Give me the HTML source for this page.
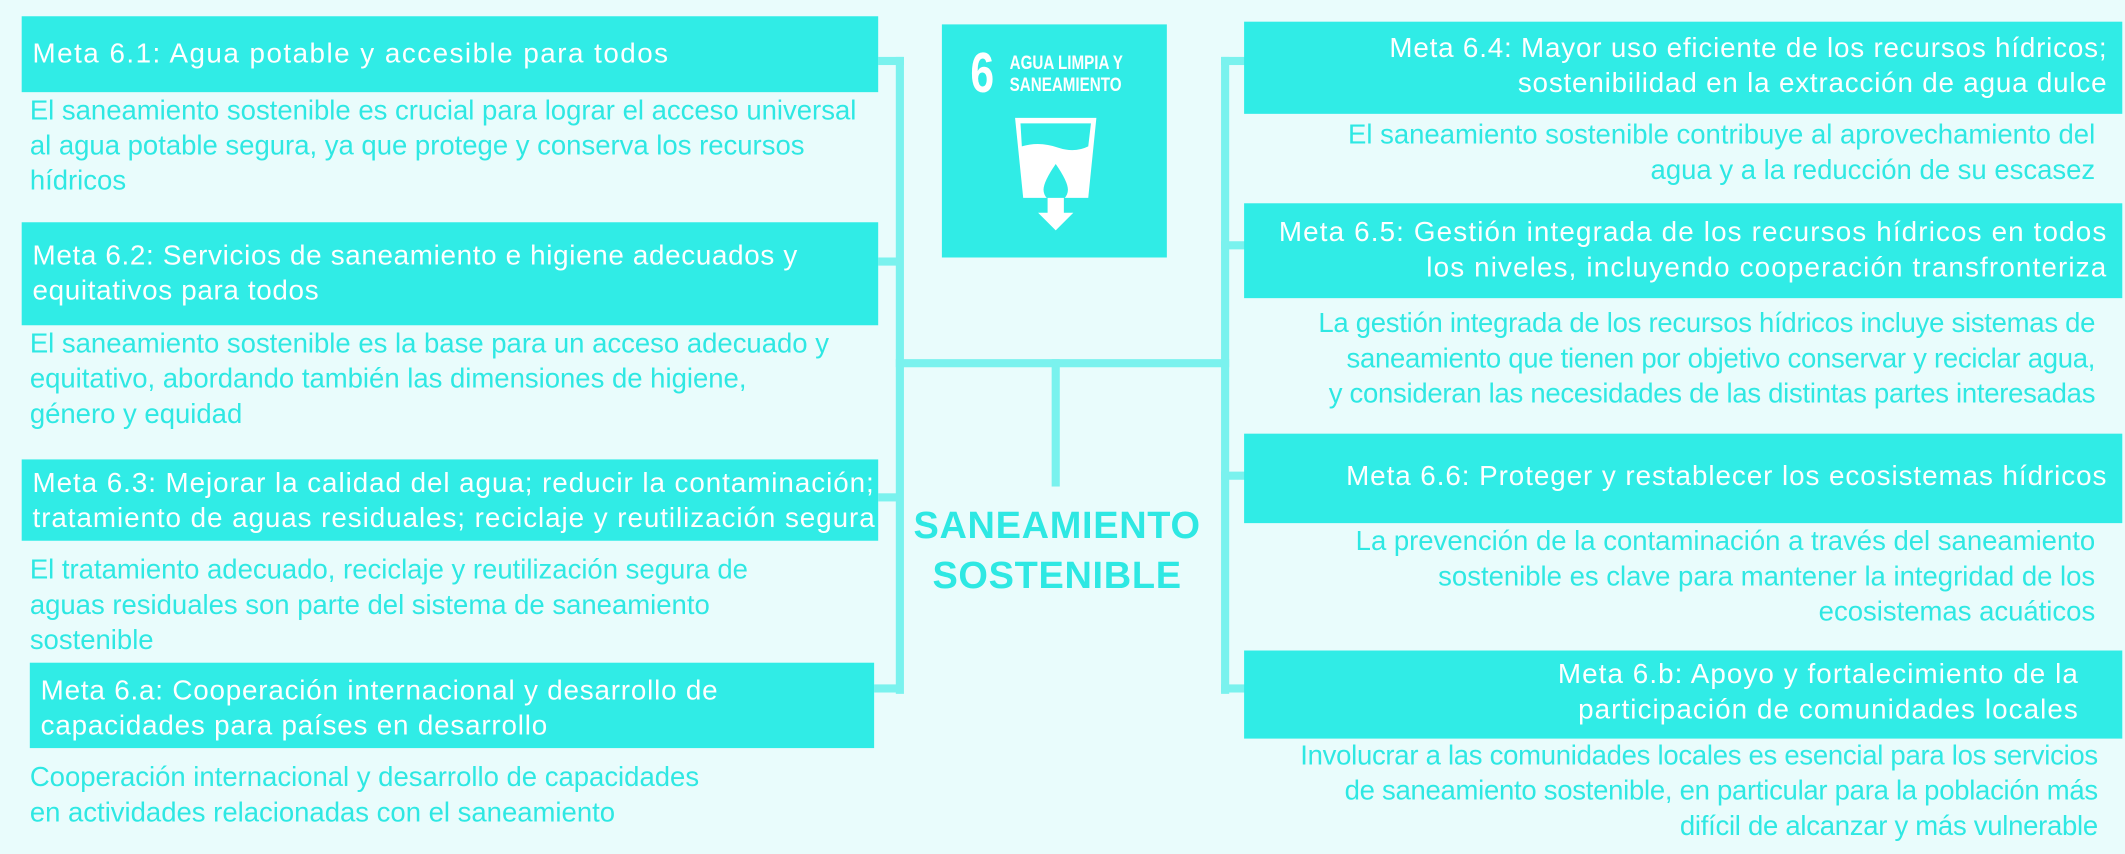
<!DOCTYPE html>
<html><head><meta charset="utf-8">
<style>
html,body{margin:0;padding:0;width:2125px;height:854px;overflow:hidden;background:#e9fcfc;}
#w{position:absolute;left:0;top:0;width:1568px;height:630px;transform:scale(1.35523);transform-origin:0 0;font-family:"Liberation Sans",sans-serif;}
.b{position:absolute;background:#30ece6;}
.l{position:absolute;background:#7af2ee;}
.t{position:absolute;font-size:20.3px;line-height:26px;white-space:nowrap;}
.h{color:#fff;letter-spacing:0.9px;font-size:20.5px;}
.d{color:#2ee8e3;}
.r{text-align:right;}
</style></head><body><div id="w">
<!-- lines -->
<div class="l" style="left:648px;top:42px;width:19px;height:6px"></div>
<div class="l" style="left:661px;top:42px;width:6px;height:470px"></div>
<div class="l" style="left:648px;top:190px;width:15px;height:6px"></div>
<div class="l" style="left:648px;top:364px;width:15px;height:6px"></div>
<div class="l" style="left:645px;top:505px;width:20px;height:6px"></div>
<div class="l" style="left:661px;top:265px;width:246px;height:6px"></div>
<div class="l" style="left:776px;top:265px;width:6px;height:94px"></div>
<div class="l" style="left:901px;top:42px;width:6px;height:470px"></div>
<div class="l" style="left:901px;top:42px;width:18px;height:6px"></div>
<div class="l" style="left:901px;top:178px;width:18px;height:6px"></div>
<div class="l" style="left:901px;top:348px;width:18px;height:6px"></div>
<div class="l" style="left:901px;top:505px;width:18px;height:6px"></div>

<!-- left boxes -->
<div class="b" style="left:16px;top:12px;width:632px;height:56px"></div>
<div class="t h" style="left:24px;top:27px;letter-spacing:1.1px">Meta 6.1: Agua potable y accesible para todos</div>
<div class="t d" style="left:22px;top:69px">El saneamiento sostenible es crucial para lograr el acceso universal<br>al agua potable segura, ya que protege y conserva los recursos<br>hídricos</div>

<div class="b" style="left:16px;top:164px;width:632px;height:76px"></div>
<div class="t h" style="left:24px;top:176px;letter-spacing:0.5px">Meta 6.2: Servicios de saneamiento e higiene adecuados y<br>equitativos para todos</div>
<div class="t d" style="left:22px;top:241px">El saneamiento sostenible es la base para un acceso adecuado y<br>equitativo, abordando también las dimensiones de higiene,<br>género y equidad</div>

<div class="b" style="left:16px;top:339px;width:632px;height:60px"></div>
<div class="t h" style="left:24px;top:344px;letter-spacing:0.7px">Meta 6.3: Mejorar la calidad del agua; reducir la contaminación;<br>tratamiento de aguas residuales; reciclaje y reutilización segura</div>
<div class="t d" style="left:22px;top:408px">El tratamiento adecuado, reciclaje y reutilización segura de<br>aguas residuales son parte del sistema de saneamiento<br>sostenible</div>

<div class="b" style="left:22px;top:489px;width:623px;height:63px"></div>
<div class="t h" style="left:30px;top:497px;letter-spacing:0.6px">Meta 6.a: Cooperación internacional y desarrollo de<br>capacidades para países en desarrollo</div>
<div class="t d" style="left:22px;top:561px">Cooperación internacional y desarrollo de capacidades<br>en actividades relacionadas con el saneamiento</div>

<!-- SDG icon -->
<div class="b" style="left:695px;top:18px;width:166px;height:172px"></div>
<div style="position:absolute;left:716px;top:33px;color:#fff;font:bold 42px/42px 'Liberation Sans Narrow','Liberation Sans',sans-serif;transform:scaleX(0.75);transform-origin:0 0">6</div>
<div style="position:absolute;left:745px;top:38px;color:#fff;font:bold 14px/16px 'Liberation Sans Narrow','Liberation Sans',sans-serif;transform:scaleX(0.8);transform-origin:0 0;white-space:nowrap">AGUA LIMPIA Y<br>SANEAMIENTO</div>
<svg style="position:absolute;left:695px;top:18px" width="166" height="172" viewBox="0 0 166 172">
<path d="M54 69 L114 69 L108 128 L60 128 Z" fill="#fff"/>
<path d="M58 73 L110 73 L108 90 Q98 95 86 91 Q72 86 59 90 Z" fill="#30ece6"/>
<path d="M84 103 Q75 116 75 122 A9 9 0 0 0 93 122 Q93 116 84 103 Z" fill="#30ece6"/>
<path d="M78 128 L90 128 L90 139 L97 139 L84 152 L71 139 L78 139 Z" fill="#fff"/>
</svg>

<!-- center title -->
<div style="position:absolute;left:640px;top:369px;width:280px;text-align:center;color:#2ee8e3;font:bold 28px/37px 'Liberation Sans',sans-serif;letter-spacing:0.5px">SANEAMIENTO<br>SOSTENIBLE</div>

<!-- right boxes -->
<div class="b" style="left:918px;top:16px;width:648px;height:68px"></div>
<div class="t h r" style="right:13px;top:23px;letter-spacing:0.6px">Meta 6.4: Mayor uso eficiente de los recursos hídricos;<br>sostenibilidad en la extracción de agua dulce</div>
<div class="t d r" style="right:22px;top:87px">El saneamiento sostenible contribuye al aprovechamiento del<br>agua y a la reducción de su escasez</div>

<div class="b" style="left:918px;top:150px;width:648px;height:70px"></div>
<div class="t h r" style="right:13px;top:159px;letter-spacing:0.85px">Meta 6.5: Gestión integrada de los recursos hídricos en todos<br>los niveles, incluyendo cooperación transfronteriza</div>
<div class="t d r" style="right:22px;top:226px;letter-spacing:-0.2px">La gestión integrada de los recursos hídricos incluye sistemas de<br>saneamiento que tienen por objetivo conservar y reciclar agua,<br>y consideran las necesidades de las distintas partes interesadas</div>

<div class="b" style="left:918px;top:320px;width:648px;height:66px"></div>
<div class="t h r" style="right:13px;top:339px;letter-spacing:0.7px">Meta 6.6: Proteger y restablecer los ecosistemas hídricos</div>
<div class="t d r" style="right:22px;top:387px">La prevención de la contaminación a través del saneamiento<br>sostenible es clave para mantener la integridad de los<br>ecosistemas acuáticos</div>

<div class="b" style="left:918px;top:480px;width:648px;height:65px"></div>
<div class="t h r" style="right:34px;top:485px;letter-spacing:0.8px">Meta 6.b: Apoyo y fortalecimiento de la<br>participación de comunidades locales</div>
<div class="t d r" style="right:20px;top:545px;letter-spacing:-0.2px">Involucrar a las comunidades locales es esencial para los servicios<br>de saneamiento sostenible, en particular para la población más<br>difícil de alcanzar y más vulnerable</div>
</div></body></html>
